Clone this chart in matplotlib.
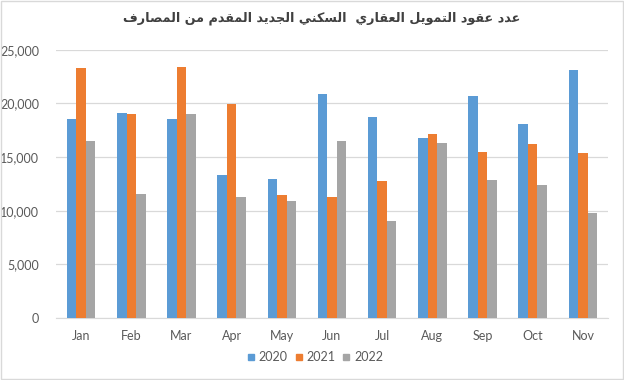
import matplotlib
matplotlib.use("Agg")
import matplotlib.pyplot as plt
import numpy as np
from matplotlib.patches import Rectangle
from matplotlib.lines import Line2D

months = ["Jan", "Feb", "Mar", "Apr", "May", "Jun", "Jul", "Aug", "Sep", "Oct", "Nov"]
series_names = ["2020", "2021", "2022"]
v2020 = [18500, 19100, 18500, 13300, 12950, 20850, 18700, 16750, 20700, 18050, 23100]
v2021 = [23250, 19000, 23400, 19900, 11450, 11250, 12750, 17150, 15450, 16200, 15350]
v2022 = [16500, 11600, 19000, 11250, 10900, 16500, 9000, 16300, 12850, 12400, 9750]
colors = ["#5B9BD5", "#ED7D31", "#A5A5A5"]
yticks = [0, 5000, 10000, 15000, 20000, 25000]
title_raw = "عدد عقود التمويل العقاري  السكني الجديد المقدم من المصارف"

# minimal Arabic shaper (presentation forms) + visual reversal
FORMS = {
    'ا': ('\uFE8D', '\uFE8E', None, None),
    'ت': ('\uFE95', '\uFE96', '\uFE97', '\uFE98'),
    'ج': ('\uFE9D', '\uFE9E', '\uFE9F', '\uFEA0'),
    'د': ('\uFEA9', '\uFEAA', None, None),
    'ر': ('\uFEAD', '\uFEAE', None, None),
    'س': ('\uFEB1', '\uFEB2', '\uFEB3', '\uFEB4'),
    'ص': ('\uFEB9', '\uFEBA', '\uFEBB', '\uFEBC'),
    'ع': ('\uFEC9', '\uFECA', '\uFECB', '\uFECC'),
    'ف': ('\uFED1', '\uFED2', '\uFED3', '\uFED4'),
    'ق': ('\uFED5', '\uFED6', '\uFED7', '\uFED8'),
    'ك': ('\uFED9', '\uFEDA', '\uFEDB', '\uFEDC'),
    'ل': ('\uFEDD', '\uFEDE', '\uFEDF', '\uFEE0'),
    'م': ('\uFEE1', '\uFEE2', '\uFEE3', '\uFEE4'),
    'ن': ('\uFEE5', '\uFEE6', '\uFEE7', '\uFEE8'),
    'و': ('\uFEED', '\uFEEE', None, None),
    'ي': ('\uFEF1', '\uFEF2', '\uFEF3', '\uFEF4'),
}


def shape(text):
    out = []
    for i, c in enumerate(text):
        if c not in FORMS:
            out.append(c)
            continue
        prev = text[i - 1] if i > 0 else None
        nxt = text[i + 1] if i + 1 < len(text) else None
        iso, fin, ini, med = FORMS[c]
        jp = prev in FORMS and FORMS[prev][2] is not None
        jn = nxt in FORMS and ini is not None
        if jp and jn:
            out.append(med)
        elif jp:
            out.append(fin)
        elif jn:
            out.append(ini)
        else:
            out.append(iso)
    return "".join(reversed(out))


plt.rcParams['font.family'] = ['Lato', 'DejaVu Sans']

fig = plt.figure(figsize=(6.24, 3.80), dpi=100)
ax = fig.add_axes([56 / 624, 1 - 318 / 380, 552 / 624, (318 - 49.7) / 380])

x = np.arange(len(months))
w = 0.19
for k, (vals, c, name) in enumerate(zip([v2020, v2021, v2022], colors, series_names)):
    ax.bar(x + (k - 1) * w, vals, width=w, color=c, label=name, zorder=3)

ax.set_xlim(-0.5, len(months) - 0.5)
ax.set_ylim(0, 25000)
ax.set_yticks(yticks)
ax.set_yticklabels([f"{t:,}" for t in yticks])
ax.set_xticks(x)
ax.set_xticklabels(months)
ax.grid(axis='y', color='#D9D9D9', linewidth=0.9, zorder=0)
for s in ['top', 'right', 'left']:
    ax.spines[s].set_visible(False)
ax.spines['bottom'].set_color('#D9D9D9')
ax.tick_params(axis='both', length=0, labelsize=9, colors='#595959')
ax.tick_params(axis='y', pad=12)
ax.tick_params(axis='x', pad=9)

fig.text(0.516, 1 - 18 / 380, shape(title_raw), ha='center', va='center',
         fontsize=9.2, fontweight='bold', color='#404040', family='DejaVu Sans')

handles = [Line2D([0], [0], marker='s', linestyle='none', markersize=5,
                  markerfacecolor=c, markeredgecolor=c) for c in colors]
fig.legend(handles, series_names, loc='center', bbox_to_anchor=(0.505, 1 - 357 / 380),
           ncol=3, frameon=False, fontsize=9, labelcolor='#595959',
           handletextpad=0.3, columnspacing=0.6, handlelength=0.6)

fig.patches.append(Rectangle((0.001, 0.002), 0.997, 0.995, transform=fig.transFigure,
                             fill=False, edgecolor='#D9D9D9', linewidth=1))

fig.savefig("out.png", dpi=100)
